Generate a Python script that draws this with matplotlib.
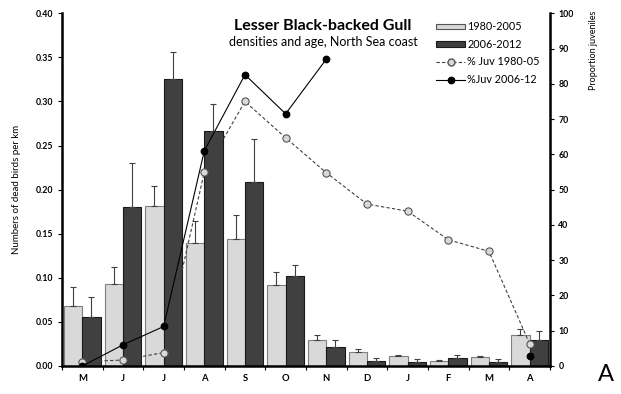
import numpy as np
import matplotlib
matplotlib.use("Agg")
import matplotlib.pyplot as plt
from matplotlib.patches import Patch
from matplotlib.lines import Line2D

plt.rcParams['font.family'] = ['Lato', 'DejaVu Sans']

# -------------------------------
# data
# -------------------------------
months = ["M", "J", "J", "A", "S", "O", "N", "D", "J", "F", "M", "A"]

dens_early = [0.068, 0.093, 0.182, 0.140, 0.144, 0.092, 0.030, 0.016, 0.011, 0.006, 0.010, 0.035]
err_early = [0.022, 0.019, 0.022, 0.024, 0.027, 0.015, 0.005, 0.003, 0.002, 0.001, 0.001, 0.007]

dens_late = [0.056, 0.180, 0.326, 0.266, 0.209, 0.102, 0.021, 0.006, 0.005, 0.009, 0.005, 0.029]
err_late = [0.022, 0.050, 0.030, 0.031, 0.048, 0.012, 0.008, 0.003, 0.003, 0.003, 0.003, 0.011]

juv_early = [1.2, 1.7, 3.8, 55.0, 75.0, 64.7, 54.8, 45.9, 43.9, 35.8, 32.5, 6.3]
juv_late = [0.0, 6.0, 11.2, 61.0, 82.6, 71.5, 87.0, np.nan, np.nan, np.nan, np.nan, 2.9]

light = "#d9d9d9"
dark = "#404040"

fig = plt.figure(figsize=(6.21, 3.94), dpi=100)
ax = fig.add_axes([0.0998, 0.0711, 0.7858, 0.8951])

x = np.arange(len(months))
w = 0.45

ax.bar(x - w / 2, dens_early, w, color=light, edgecolor="#7f7f7f", linewidth=0.8, zorder=2)
ax.bar(x + w / 2, dens_late, w, color=dark, edgecolor="#1a1a1a", linewidth=0.8, zorder=2)
# only the upper half of the error bars
ax.errorbar(x - w / 2, dens_early, yerr=[np.zeros(12), err_early], fmt="none",
            ecolor="#404040", elinewidth=0.8, capsize=2.5, capthick=0.8, zorder=3)
ax.errorbar(x + w / 2, dens_late, yerr=[np.zeros(12), err_late], fmt="none",
            ecolor="#404040", elinewidth=0.8, capsize=2.5, capthick=0.8, zorder=3)

ax.set_xlim(-0.5, 11.5)
ax.set_ylim(0, 0.40)
ax.set_yticks(np.arange(0, 0.401, 0.05))
ax.set_yticklabels([f"{v:.2f}" for v in np.arange(0, 0.401, 0.05)],
                   fontsize=6.3, fontweight="bold")
ax.set_xticks(np.arange(-0.5, 12, 1))
ax.set_xticklabels([])
ax.set_xticks(x, minor=True)
ax.set_xticklabels(months, minor=True, fontsize=6.8, fontweight="bold")
ax.tick_params(axis="x", which="major", length=3, width=0.8, direction="out")
ax.tick_params(axis="x", which="minor", length=0, pad=6)
ax.tick_params(axis="y", length=3, width=0.8, pad=3)
ax.set_ylabel("Numbers of dead birds per km", fontsize=7, labelpad=11)

for s in ["top", "right"]:
    ax.spines[s].set_visible(False)
ax.spines["left"].set_linewidth(1.8)
ax.spines["bottom"].set_linewidth(1.8)

ax2 = ax.twinx()
ax2.plot(x, juv_early, linestyle=(0, (3, 2)), color="#404040", linewidth=0.8,
         marker="o", markersize=5.2, markerfacecolor=light, markeredgecolor="#555555",
         markeredgewidth=0.8)
ax2.plot(x, juv_late, linestyle="-", color="black", linewidth=0.8,
         marker="o", markersize=4.6, markerfacecolor="black", markeredgecolor="black")
ax2.set_ylim(0, 100)
ax2.set_yticks(np.arange(0, 101, 10))
ax2.set_yticklabels([str(v) for v in range(0, 101, 10)], fontsize=6.3, fontweight="bold")
ax2.tick_params(axis="y", length=3, width=0.8, pad=3)
for s in ["top", "left", "bottom"]:
    ax2.spines[s].set_visible(False)
ax2.spines["right"].set_linewidth(1.8)

fig.text(0.956, 0.972, "Proportion juveniles", rotation=90, ha="center", va="top", fontsize=6.5)

fig.text(0.519, 0.934, "Lesser Black-backed Gull", ha="center", va="center",
         fontsize=11.5, fontweight="bold")
fig.text(0.52, 0.893, "densities and age, North Sea coast", ha="center", va="center", fontsize=9)

handles = [
    Patch(facecolor=light, edgecolor="#555555", linewidth=0.8),
    Patch(facecolor=dark, edgecolor="#1a1a1a", linewidth=0.8),
    Line2D([], [], linestyle=(0, (3, 2)), color="#404040", linewidth=0.8, marker="o",
           markersize=5, markerfacecolor=light, markeredgecolor="#555555"),
    Line2D([], [], linestyle="-", color="black", linewidth=0.8, marker="o",
           markersize=4.6, markerfacecolor="black"),
]
labels = ["1980-2005", "2006-2012", "% Juv 1980-05", "%Juv 2006-12"]
fig.legend(handles, labels, loc="upper left", bbox_to_anchor=(0.69, 0.965), frameon=False,
           fontsize=7.8, handlelength=2.7, handleheight=0.4, handletextpad=0.2,
           labelspacing=0.6, borderpad=0.2)

fig.text(0.975, 0.05, "A", ha="center", va="center", fontsize=17)

fig.savefig("out.png", dpi=100)
